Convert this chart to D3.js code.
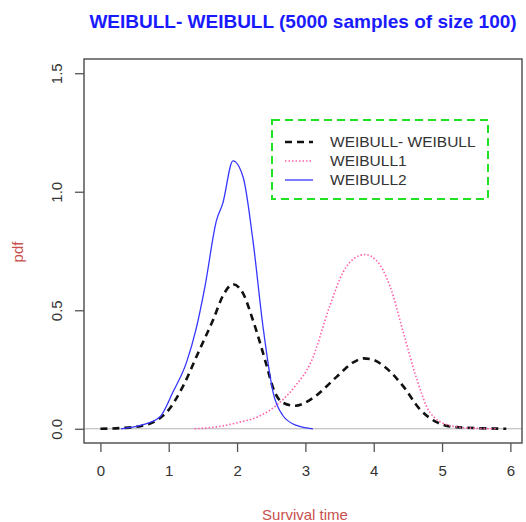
<!DOCTYPE html>
<html>
<head>
<meta charset="utf-8">
<script src="https://cdn.jsdelivr.net/npm/d3@7"></script>
<style>
body { margin: 0; background: #fff; }
svg text { font-family: "Liberation Sans", Arial, sans-serif; }
</style>
</head>
<body>
<svg id="chart" width="526" height="522"></svg>
<script>
// values
var wwX = [0, 0.3, 0.6, 0.87, 0.97, 1.21, 1.43, 1.65, 1.8, 1.94, 2.09, 2.23, 2.43, 2.53, 2.67, 2.85, 3.11, 3.46, 3.7, 3.85, 4.0, 4.14, 4.43, 4.67, 4.92, 5.21, 5.94];
var wwY = [0, 0.003, 0.012, 0.045, 0.07, 0.18, 0.32, 0.46, 0.565, 0.61, 0.57, 0.46, 0.27, 0.17, 0.11, 0.097, 0.13, 0.22, 0.28, 0.297, 0.29, 0.266, 0.18, 0.084, 0.028, 0.007, 0];
var w1X = [1.38, 1.7, 2.04, 2.3, 2.58, 2.85, 3.08, 3.36, 3.55, 3.72, 3.87, 4.04, 4.24, 4.43, 4.63, 4.82, 5.11, 5.4, 5.8];
var w1Y = [0, 0.008, 0.028, 0.05, 0.10, 0.18, 0.28, 0.52, 0.66, 0.72, 0.735, 0.71, 0.60, 0.41, 0.21, 0.07, 0.014, 0.003, 0];
var w2X = [0.3, 0.6, 0.87, 1.06, 1.26, 1.40, 1.53, 1.70, 1.79, 1.94, 2.09, 2.23, 2.38, 2.53, 2.67, 2.87, 3.11];
var w2Y = [0, 0.015, 0.05, 0.154, 0.28, 0.42, 0.60, 0.88, 0.95, 1.13, 1.06, 0.80, 0.43, 0.15, 0.056, 0.014, 0];
var seriesNames = ["WEIBULL- WEIBULL", "WEIBULL1", "WEIBULL2"];
var xTicks = [0, 1, 2, 3, 4, 5, 6];
var yTicks = [0, 0.5, 1.0, 1.5];

var svg = d3.select("#chart");
var box = {left: 84, right: 522, top: 59, bottom: 443};

var x = d3.scaleLinear().domain([-0.24, 6.24]).range([box.left, box.left + 438 * 6.48 / 6.41]);
var y = d3.scaleLinear().domain([-0.06, 1.56]).range([box.bottom, box.top]);

var styles = [
	{color: "#111", width: 2.6, dash: "7,5"},
	{color: "#ff5fa8", width: 1.6, dash: "1.5,2"},
	{color: "#3535ff", width: 1.3, dash: null}
];

// title
svg.append("text")
	.attr("x", (box.left + box.right) / 2)
	.attr("y", 28)
	.attr("text-anchor", "middle")
	.style("font-size", "19px")
	.style("font-weight", "bold")
	.style("fill", "#1a1aff")
	.text("WEIBULL- WEIBULL (5000 samples of size 100)");

// zero reference line
svg.append("line")
	.attr("x1", box.left).attr("x2", box.right)
	.attr("y1", y(0)).attr("y2", y(0))
	.style("stroke", "#b5b5b5").style("stroke-width", 1);

var line = d3.line()
	.curve(d3.curveMonotoneX)
	.x(function(d) { return x(d[0]); })
	.y(function(d) { return y(d[1]); });

var data = [d3.zip(wwX, wwY), d3.zip(w1X, w1Y), d3.zip(w2X, w2Y)];
var drawOrder = [0, 1, 2];
drawOrder.forEach(function(i) {
	svg.append("path")
		.attr("d", line(data[i]))
		.style("fill", "none")
		.style("stroke", styles[i].color)
		.style("stroke-width", styles[i].width)
		.style("stroke-dasharray", styles[i].dash);
});

// frame
svg.append("rect")
	.attr("x", box.left).attr("y", box.top)
	.attr("width", box.right - box.left).attr("height", box.bottom - box.top)
	.style("fill", "none").style("stroke", "#555").style("stroke-width", 1.5);

// axes
var xAxis = svg.append("g")
	.attr("transform", "translate(0," + box.bottom + ")")
	.call(d3.axisBottom(x).tickValues(xTicks).tickFormat(d3.format("d")).tickSize(9).tickPadding(13));
var yAxis = svg.append("g")
	.attr("transform", "translate(" + box.left + ",0)")
	.call(d3.axisLeft(y).tickValues(yTicks).tickFormat(d3.format(".1f")).tickSize(9));
[xAxis, yAxis].forEach(function(g) {
	g.select(".domain").remove();
	g.selectAll(".tick line").style("stroke", "#555").style("stroke-width", 1.3);
	g.selectAll(".tick text").style("font-size", "15px").style("fill", "#333")
		.style("font-family", "'Liberation Sans', Arial, sans-serif");
});
yAxis.selectAll(".tick text")
	.attr("x", null).attr("dy", null)
	.attr("text-anchor", "middle")
	.attr("transform", "translate(-27,0) rotate(-90)")
	.attr("y", 0).attr("dy", "0.35em");

// axis labels
svg.append("text")
	.attr("x", (box.left + box.right) / 2 + 2)
	.attr("y", 520)
	.attr("text-anchor", "middle")
	.style("font-size", "15px")
	.style("fill", "#c8504d")
	.text("Survival time");
svg.append("text")
	.attr("transform", "translate(23,252) rotate(-90)")
	.attr("text-anchor", "middle")
	.style("font-size", "15px")
	.style("fill", "#c8504d")
	.text("pdf");

// legend
var legend = svg.append("g");
legend.append("rect")
	.attr("x", 272).attr("y", 120).attr("width", 216).attr("height", 79)
	.style("fill", "#fff").style("stroke", "#22e022").style("stroke-width", 2)
	.style("stroke-dasharray", "8,5");
seriesNames.forEach(function(name, i) {
	var ly = 142 + i * 19;
	legend.append("line")
		.attr("x1", 285).attr("x2", 313).attr("y1", ly).attr("y2", ly)
		.style("stroke", styles[i].color)
		.style("stroke-width", styles[i].width)
		.style("stroke-dasharray", styles[i].dash);
	legend.append("text")
		.attr("x", 330).attr("y", ly).attr("dy", "0.35em")
		.style("font-size", "15.5px").style("fill", "#333")
		.text(name);
});
</script>
</body>
</html>
